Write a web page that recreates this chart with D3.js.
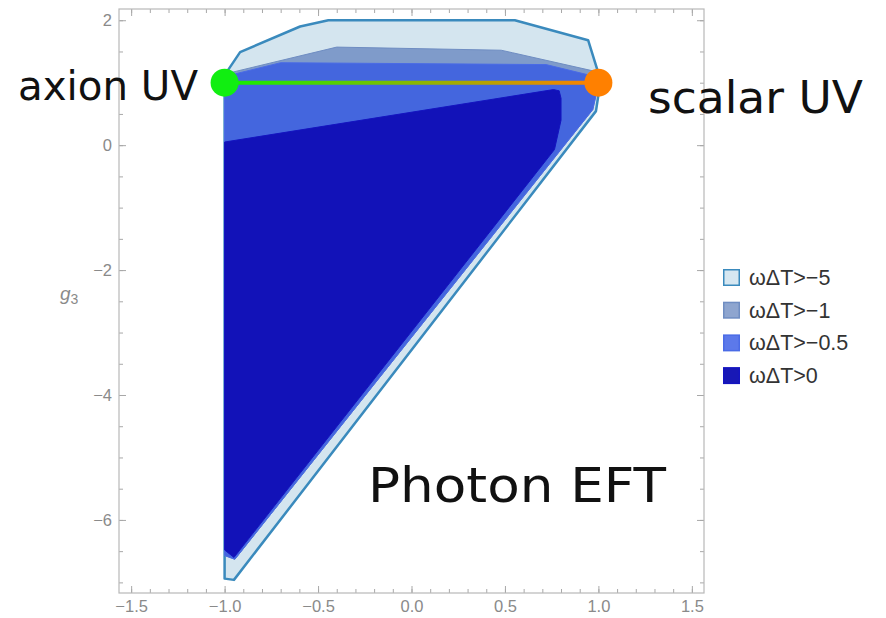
<!DOCTYPE html>
<html>
<head>
<meta charset="utf-8">
<script src="https://cdn.jsdelivr.net/npm/d3@7"></script>
<style>
  body { margin: 0; background: #fff; }
  .tick text { fill: #8a8a8a; font-family: "Liberation Sans", Arial, sans-serif; font-size: 16.5px; }
  .tick line { stroke: #a8a8a8; }
  .legend text { font-family: "Liberation Sans", Arial, sans-serif; font-size: 21.5px; fill: #333; }
  .hand { font-family: "DejaVu Sans", sans-serif; fill: #111; }
</style>
</head>
<body>
<svg id="chart" width="886" height="618"></svg>
<script>
// axis ticks
var xMajor = [-1.5, -1, -0.5, 0, 0.5, 1, 1.5];
var yMajor = [-6, -4, -2, 0, 2];

// regions, outermost first
var legendLabels = ["ωΔT>−5", "ωΔT>−1", "ωΔT>−0.5", "ωΔT>0"];
var regionM5 = [[-1.0, -6.94], [-1.0, 1.1], [-0.98, 1.21], [-0.917, 1.49], [-0.596, 1.90], [-0.445, 2.0],
  [0.553, 2.0], [0.945, 1.68], [0.994, 1.21], [1.01, 1.0], [0.987, 0.545], [-0.95, -6.96]];
var regionM1 = [[-1.0, -6.57], [-1.0, 1.12], [-0.97, 1.16], [-0.40, 1.57], [0.48, 1.52], [0.54, 1.48],
  [0.97, 1.19], [1.0, 1.0], [0.97, 0.57], [-0.945, -6.63]];
var regionM05 = [[-1.0, -6.57], [-1.0, 1.1], [-0.70, 1.32], [0.72, 1.29], [0.94, 1.13], [1.0, 0.95],
  [0.97, 0.57], [-0.945, -6.63]];
var regionP0 = [[-1.0, -6.48], [-1.0, 0.05], [0.76, 0.89], [0.79, 0.87], [0.80, 0.75], [0.80, 0.40],
  [0.765, -0.07], [-0.95, -6.60]];
var regions = [regionM5, regionM1, regionM05, regionP0];

// endpoints of the UV line
var axionPt = [-1.0, 1.0];
var scalarPt = [1.0, 1.0];

var fills = ["#d4e5ef", "#7f9bca", "#4466de", "#1212b8"];
var strokes = ["#3a8abd", "#6f8dc2", "#4a6be6", "#1414c0"];
var swatchFills = ["#d6e7f1", "#8ea5cf", "#5c79ea", "#1818b6"];

var margin = { left: 119, right: 182, top: 9, bottom: 25 };
var width = 886, height = 618;
var plotW = width - margin.left - margin.right,
    plotH = height - margin.top - margin.bottom;

var svg = d3.select("#chart");
var xScale = d3.scaleLinear().domain([-1.565, 1.565]).range([0, plotW]);
var yScale = d3.scaleLinear().domain([-7.17, 2.18]).range([plotH, 0]);

var xMinor = d3.range(-15, 16).map(function(d) { return d / 10; });
var yMinor = d3.range(-14, 5).map(function(d) { return d / 2; });

var defs = svg.append("defs");
defs.append("clipPath").attr("id", "plotClip")
  .append("rect").attr("width", plotW).attr("height", plotH);

var grad = defs.append("linearGradient")
  .attr("id", "uvGrad")
  .attr("gradientUnits", "userSpaceOnUse")
  .attr("x1", xScale(axionPt[0])).attr("x2", xScale(scalarPt[0]))
  .attr("y1", 0).attr("y2", 0);
grad.append("stop").attr("offset", 0).attr("stop-color", "#10f000");
grad.append("stop").attr("offset", 1).attr("stop-color", "#ff8000");

var g = svg.append("g").attr("transform", "translate(" + margin.left + "," + margin.top + ")");

// regions
var line = d3.line().x(function(d) { return xScale(d[0]); }).y(function(d) { return yScale(d[1]); })
  .curve(d3.curveLinearClosed);
g.append("g").attr("clip-path", "url(#plotClip)")
  .selectAll("path").data(regions).enter().append("path")
  .attr("d", line)
  .attr("fill", function(d, i) { return fills[i]; })
  .attr("stroke", function(d, i) { return strokes[i]; })
  .attr("stroke-width", function(d, i) { return i === 0 ? 2.5 : 1; })
  .attr("stroke-linejoin", "round");

// axes: ticks inward on all four sides
function frameAxis(axisFn, scale, major, minor, transform, labels) {
  var minorAxis = axisFn(scale).tickValues(minor).tickSize(-4).tickFormat("");
  var majorAxis = axisFn(scale).tickValues(major).tickSize(-7).tickPadding(7);
  if (!labels) majorAxis.tickFormat("");
  else if (axisFn === d3.axisBottom) majorAxis.tickFormat(d3.format(".1f"));
  else majorAxis.tickFormat(d3.format("d"));
  var a = g.append("g").attr("transform", transform).call(minorAxis);
  a.select(".domain").remove();
  var b = g.append("g").attr("transform", transform).call(majorAxis);
  b.select(".domain").remove();
}
frameAxis(d3.axisBottom, xScale, xMajor, xMinor, "translate(0," + plotH + ")", true);
frameAxis(d3.axisTop, xScale, xMajor, xMinor, "translate(0,0)", false);
frameAxis(d3.axisLeft, yScale, yMajor, yMinor, "translate(0,0)", true);
frameAxis(d3.axisRight, yScale, yMajor, yMinor, "translate(" + plotW + ",0)", false);

g.append("rect")
  .attr("width", plotW).attr("height", plotH)
  .attr("fill", "none").attr("stroke", "#b8b8b8").attr("stroke-width", 1.2);

// y title g3
var yTitle = svg.append("text")
  .attr("x", 60).attr("y", 300)
  .attr("fill", "#8a8a8a")
  .style("font-family", "Liberation Sans, sans-serif")
  .style("font-size", "19px");
yTitle.append("tspan").style("font-style", "italic").text("g");
yTitle.append("tspan").attr("dy", 4).style("font-size", "14px").text("3");

// UV line and endpoints
g.append("line")
  .attr("x1", xScale(axionPt[0])).attr("y1", yScale(axionPt[1]))
  .attr("x2", xScale(scalarPt[0])).attr("y2", yScale(scalarPt[1]))
  .attr("stroke", "url(#uvGrad)").attr("stroke-width", 4);
g.append("circle")
  .attr("cx", xScale(axionPt[0])).attr("cy", yScale(axionPt[1])).attr("r", 14)
  .attr("fill", "#11ee11");
g.append("circle")
  .attr("cx", xScale(scalarPt[0])).attr("cy", yScale(scalarPt[1])).attr("r", 14)
  .attr("fill", "#ff8000");

// legend
var legend = svg.append("g").attr("class", "legend").attr("transform", "translate(723,269)");
var rows = legend.selectAll("g").data(legendLabels).enter().append("g")
  .attr("transform", function(d, i) { return "translate(0," + (i * 32.7) + ")"; });
rows.append("rect")
  .attr("x", 0.75).attr("y", 0.75).attr("width", 15.5).attr("height", 15.5)
  .attr("fill", function(d, i) { return swatchFills[i]; })
  .attr("stroke", function(d, i) { return strokes[i]; })
  .attr("stroke-width", 1.5);
rows.append("text")
  .attr("x", 26).attr("y", 16)
  .text(function(d) { return d; });

// handwritten annotations
svg.append("text").attr("class", "hand")
  .attr("x", 18).attr("y", 100)
  .attr("textLength", 180).attr("lengthAdjust", "spacingAndGlyphs")
  .style("font-size", "40px")
  .text("axion UV");
svg.append("text").attr("class", "hand")
  .attr("x", 648).attr("y", 113)
  .attr("textLength", 215).attr("lengthAdjust", "spacingAndGlyphs")
  .style("font-size", "44px")
  .text("scalar UV");
svg.append("text").attr("class", "hand")
  .attr("x", 368).attr("y", 502)
  .attr("textLength", 298).attr("lengthAdjust", "spacingAndGlyphs")
  .style("font-size", "48px")
  .text("Photon EFT");
</script>
</body>
</html>
